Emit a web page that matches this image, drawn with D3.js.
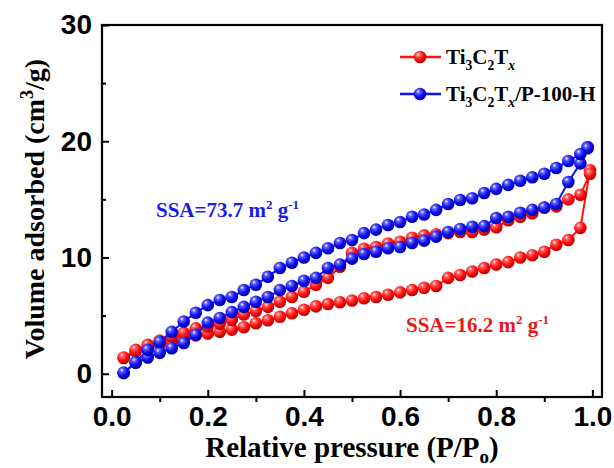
<!DOCTYPE html>
<html>
<head>
<meta charset="utf-8">
<script src="https://cdn.jsdelivr.net/npm/d3@7/dist/d3.min.js"></script>
<style>
  html, body { margin: 0; padding: 0; background: #fff; }
  svg { display: block; font-family: "Liberation Serif", "Times New Roman", serif; font-weight: bold; }
</style>
</head>
<body>
<svg id="chart" width="614" height="468"></svg>
<script>
// N2 adsorption/desorption isotherms (P/P0 vs. volume adsorbed, cm3/g)
const redAdsP = [0.025,0.05,0.075,0.1,0.125,0.15,0.175,0.2,0.225,0.25,0.275,0.3,0.325,0.35,0.375,0.4,0.425,0.45,0.475,0.5,0.525,0.55,0.575,0.6,0.625,0.65,0.675,0.7,0.725,0.75,0.775,0.8,0.825,0.85,0.875,0.9,0.925,0.95,0.975,0.995];
const redAdsV = [1.35,1.9,2.2,2.5,2.75,3.0,3.3,3.45,3.6,3.8,4.0,4.35,4.6,4.9,5.2,5.5,5.8,6.0,6.15,6.3,6.5,6.6,6.8,7.0,7.2,7.4,7.55,8.25,8.5,8.8,9.1,9.4,9.6,10.0,10.2,10.5,11.1,11.5,12.55,17.5];
const redDesP = [0.995,0.975,0.95,0.925,0.9,0.875,0.85,0.825,0.8,0.775,0.75,0.725,0.7,0.675,0.65,0.625,0.6,0.575,0.55,0.525,0.5,0.475,0.45,0.425,0.4,0.375,0.35,0.325,0.3,0.275,0.25,0.225,0.2,0.175,0.15,0.125,0.1,0.075,0.05,0.025];
const redDesV = [17.2,15.4,15.0,14.4,14.3,13.8,13.5,13.2,12.6,12.4,12.2,12.2,12.1,12.0,11.9,11.7,11.35,11.2,10.9,10.75,10.4,9.2,8.25,7.65,7.05,6.6,6.2,5.75,5.4,5.1,4.65,4.3,4.05,3.9,3.5,3.2,2.85,2.5,2.05,1.4];

const blueAdsP = [0.025,0.05,0.075,0.1,0.125,0.15,0.175,0.2,0.225,0.25,0.275,0.3,0.325,0.35,0.375,0.4,0.425,0.45,0.475,0.5,0.525,0.55,0.575,0.6,0.625,0.65,0.675,0.7,0.725,0.75,0.775,0.8,0.825,0.85,0.875,0.9,0.925,0.95,0.975,0.99];
const blueAdsV = [0.05,0.95,1.4,1.8,2.2,2.65,3.35,4.4,4.8,5.3,5.75,6.2,6.6,7.2,7.55,8.0,8.25,9.1,9.4,9.9,10.3,10.5,10.8,10.9,11.25,11.45,11.8,12.2,12.45,12.65,12.7,13.4,13.5,13.85,14.1,14.3,14.6,16.5,18.1,19.5];
const blueDesP = [0.99,0.975,0.95,0.925,0.9,0.875,0.85,0.825,0.8,0.775,0.75,0.725,0.7,0.675,0.65,0.625,0.6,0.575,0.55,0.525,0.5,0.475,0.45,0.425,0.4,0.375,0.35,0.325,0.3,0.275,0.25,0.225,0.2,0.175,0.15,0.125,0.1,0.075,0.05,0.025];
const blueDesV = [19.4,18.9,18.3,17.7,17.2,16.9,16.6,16.25,15.9,15.55,15.1,14.95,14.6,14.1,13.7,13.5,13.05,12.8,12.4,12.1,11.5,11.25,10.8,10.4,10.0,9.55,9.1,8.35,7.65,7.2,6.6,6.35,5.9,5.25,4.5,3.6,2.75,2.05,1.0,0.1];

const xTicks = [0.0,0.2,0.4,0.6,0.8,1.0];
const xMinorTicks = [0.1,0.3,0.5,0.7,0.9];
const yTicks = [0,10,20,30];
const yMinorTicks = [5,15,25];

const seriesNames = ["Ti3C2Tx", "Ti3C2Tx/P-100-H"];
const seriesColors = ["#ff1010", "#1010f0"];
const seriesDark = ["#b80000", "#0000a8"];
const ssaLabels = ["16.2", "73.7"];

const svg = d3.select("#chart");
const margin = {left: 102, right: 12, top: 25, bottom: 71};
const W = 614, H = 468;

const x = d3.scaleLinear().domain([-0.02, 1.02]).range([margin.left, W - margin.right]);
const y = d3.scaleLinear().domain([-2, 30]).range([H - margin.bottom, margin.top]);

// sphere-like marker gradients
const defs = svg.append("defs");
seriesColors.forEach((c, i) => {
  const g = defs.append("radialGradient").attr("id", "ball" + i)
    .attr("cx", "38%").attr("cy", "35%").attr("r", "65%").attr("fx", "35%").attr("fy", "30%");
  g.append("stop").attr("offset", "0%").attr("stop-color", "#ffffff");
  g.append("stop").attr("offset", "22%").attr("stop-color", d3.interpolateRgb(c, "#fff")(0.35));
  g.append("stop").attr("offset", "60%").attr("stop-color", c);
  g.append("stop").attr("offset", "100%").attr("stop-color", seriesDark[i]);
});

// frame
svg.append("rect")
  .attr("x", x(-0.02)).attr("y", y(30))
  .attr("width", x(1.02) - x(-0.02)).attr("height", y(-2) - y(30))
  .attr("fill", "none").attr("stroke", "#000").attr("stroke-width", 2.2);

// axes
const fontTick = 28;
const xAxis = d3.axisBottom(x).tickValues(xTicks).tickFormat(d3.format(".1f")).tickSizeInner(-7).tickSizeOuter(0).tickPadding(9);
const gx = svg.append("g").attr("transform", `translate(0,${y(-2)})`).call(xAxis);
gx.select(".domain").remove();
gx.selectAll(".tick line").attr("stroke", "#000").attr("stroke-width", 2);
gx.selectAll(".tick text").attr("font-size", fontTick).attr("fill", "#000").attr("font-family", null);

const xAxisMinor = d3.axisBottom(x).tickValues(xMinorTicks).tickFormat("").tickSizeInner(5).tickSizeOuter(0);
const gxm = svg.append("g").attr("transform", `translate(0,${y(-2)})`).call(xAxisMinor);
gxm.select(".domain").remove();
gxm.selectAll(".tick line").attr("stroke", "#000").attr("stroke-width", 2);

const yAxis = d3.axisLeft(y).tickValues(yTicks).tickFormat(d3.format("d")).tickSizeInner(-7).tickSizeOuter(0).tickPadding(10);
const gy = svg.append("g").attr("transform", `translate(${x(-0.02)},0)`).call(yAxis);
gy.select(".domain").remove();
gy.selectAll(".tick line").attr("stroke", "#000").attr("stroke-width", 2);
gy.selectAll(".tick text").attr("font-size", fontTick).attr("fill", "#000").attr("font-family", null);

const yAxisMinor = d3.axisLeft(y).tickValues(yMinorTicks).tickFormat("").tickSizeInner(-4).tickSizeOuter(0);
const gym = svg.append("g").attr("transform", `translate(${x(-0.02)},0)`).call(yAxisMinor);
gym.select(".domain").remove();
gym.selectAll(".tick line").attr("stroke", "#000").attr("stroke-width", 2);

// axis titles
const xt = svg.append("text").attr("x", (x(-0.02) + x(1.02)) / 2).attr("y", 457)
  .attr("text-anchor", "middle").attr("font-size", 29).attr("fill", "#000");
xt.append("tspan").text("Relative pressure (P/P");
xt.append("tspan").attr("font-size", 19).attr("dy", 6).text("o");
xt.append("tspan").attr("dy", -6).text(")");

const yt = svg.append("text")
  .attr("transform", `translate(44,${(y(30) + y(-2)) / 2 - 2}) rotate(-90)`)
  .attr("text-anchor", "middle").attr("font-size", 28).attr("fill", "#000");
yt.append("tspan").text("Volume adsorbed (cm");
yt.append("tspan").attr("font-size", 18).attr("dy", -11).text("3");
yt.append("tspan").attr("dy", 11).text("/g)");

// series
const line = d3.line().x(d => x(d[0])).y(d => y(d[1]));
const series = [
  {ads: d3.zip(redAdsP, redAdsV), des: d3.zip(redDesP, redDesV)},
  {ads: d3.zip(blueAdsP, blueAdsV), des: d3.zip(blueDesP, blueDesV)}
];
series.forEach((s, i) => {
  const g = svg.append("g");
  g.append("path").datum(s.ads.concat(s.des)).attr("d", line)
    .attr("fill", "none").attr("stroke", seriesColors[i]).attr("stroke-width", 2);
  g.selectAll("circle.a").data(s.ads).join("circle")
    .attr("cx", d => x(d[0])).attr("cy", d => y(d[1])).attr("r", 6.3)
    .attr("fill", `url(#ball${i})`);
  g.selectAll("circle.d").data(s.des).join("circle")
    .attr("cx", d => x(d[0])).attr("cy", d => y(d[1])).attr("r", 6.3)
    .attr("fill", `url(#ball${i})`);
});

// legend
function formula(t, name, size) {
  t.append("tspan").text("Ti");
  t.append("tspan").attr("font-size", size * 0.65).attr("dy", 6).text("3");
  t.append("tspan").attr("dy", -6).text("C");
  t.append("tspan").attr("font-size", size * 0.65).attr("dy", 6).text("2");
  t.append("tspan").attr("dy", -6).text("T");
  t.append("tspan").attr("font-size", size * 0.65).attr("font-style", "italic").attr("dy", 6).text("x");
  if (name.includes("/")) {
    t.append("tspan").attr("dy", -6).text(name.slice(name.indexOf("/")));
  }
}
const legendY = [57, 94];
seriesNames.forEach((name, i) => {
  const lg = svg.append("g");
  lg.append("line").attr("x1", 400).attr("x2", 441).attr("y1", legendY[i]).attr("y2", legendY[i])
    .attr("stroke", seriesColors[i]).attr("stroke-width", 2.5);
  lg.append("circle").attr("cx", 420).attr("cy", legendY[i]).attr("r", 6.3).attr("fill", `url(#ball${i})`);
  const t = lg.append("text").attr("x", 446).attr("y", legendY[i] + 7).attr("font-size", 21).attr("fill", "#000");
  formula(t, name, 21);
});

// specific surface area annotations
function ssa(xp, yp, val, color) {
  const t = svg.append("text").attr("x", xp).attr("y", yp).attr("font-size", 21).attr("fill", color);
  t.append("tspan").text(`SSA=${val} m`);
  t.append("tspan").attr("font-size", 13).attr("dy", -8).text("2");
  t.append("tspan").attr("dy", 8).text(" g");
  t.append("tspan").attr("font-size", 13).attr("dy", -8).text("-1");
}
ssa(156, 217, ssaLabels[1], "#1a1ae6");
ssa(406, 332, ssaLabels[0], "#e81818");
</script>
</body>
</html>
